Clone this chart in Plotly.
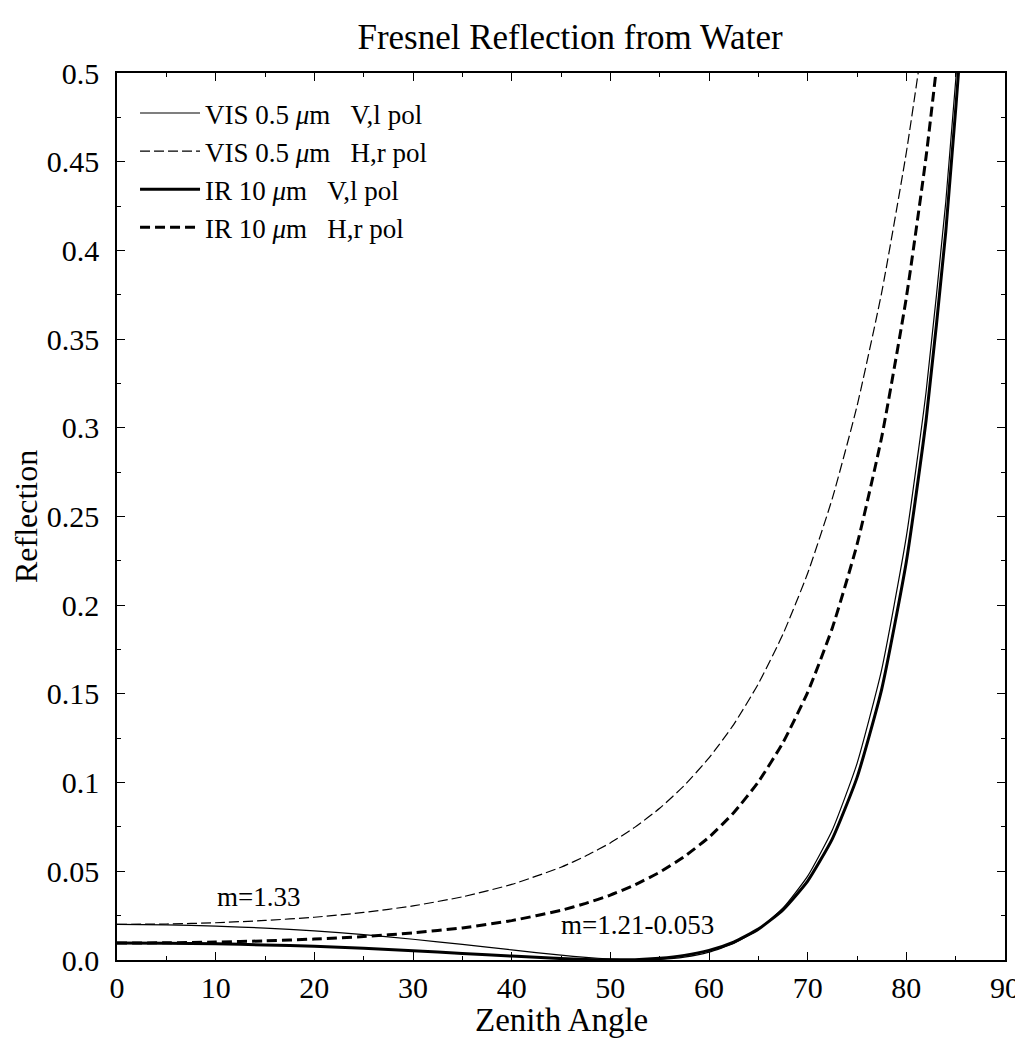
import plotly.graph_objects as go

# zenith angles (deg) and reflectances
angles = [0, 5, 10, 15, 20, 25, 30, 35, 40, 45, 47.5, 50, 52.5, 55, 57.5,
          60, 62.5, 65, 67.5, 70, 72.5, 75, 77.5, 80, 82, 84, 86, 88, 90]

vis_v = [0.0201, 0.0198, 0.0191, 0.0180, 0.0164, 0.0143, 0.0117, 0.0088,
         0.0057, 0.0027, 0.0015, 0.0005, 0.0000, 0.0003, 0.0016,
         0.0044, 0.0093, 0.0172, 0.0293, 0.0473, 0.0733, 0.1107, 0.1637,
         0.2386, 0.3202, 0.4274, 0.5684, 0.7544, 1.0]
vis_h = [0.0201, 0.0203, 0.0210, 0.0223, 0.0241, 0.0268, 0.0305, 0.0356,
         0.0426, 0.0523, 0.0586, 0.0660, 0.0749, 0.0855, 0.0984,
         0.1139, 0.1327, 0.1557, 0.1837, 0.2180, 0.2602, 0.3122, 0.3762,
         0.4552, 0.5314, 0.6215, 0.7277, 0.8529, 1.0]
ir_v = [0.0096, 0.0095, 0.0091, 0.0085, 0.0077, 0.0066, 0.0052, 0.0037,
        0.0022, 0.0008, 0.0003, 0.0001, 0.0002, 0.0010, 0.0026,
        0.0054, 0.0101, 0.0174, 0.0283, 0.0445, 0.0683, 0.1028, 0.1526,
        0.2245, 0.3041, 0.4106, 0.5531, 0.7439, 1.0]
ir_h = [0.0096, 0.0097, 0.0101, 0.0108, 0.0118, 0.0132, 0.0153, 0.0181,
        0.0222, 0.0280, 0.0319, 0.0366, 0.0424, 0.0495, 0.0583,
        0.0692, 0.0830, 0.1004, 0.1226, 0.1509, 0.1872, 0.2341, 0.2947,
        0.3734, 0.4528, 0.5507, 0.6710, 0.8189, 1.0]

x_ticks = [0, 10, 20, 30, 40, 50, 60, 70, 80, 90]
y_ticks = [0.0, 0.05, 0.1, 0.15, 0.2, 0.25, 0.3, 0.35, 0.4, 0.45, 0.5]
y_labels = ["0.0", "0.05", "0.1", "0.15", "0.2", "0.25", "0.3", "0.35",
            "0.4", "0.45", "0.5"]

FONT = "Liberation Serif"
sp = "\u00a0" * 3

series = [
    (vis_v, f"VIS 0.5 <i>μ</i>m{sp}V,l pol", 1.2, "solid"),
    (vis_h, f"VIS 0.5 <i>μ</i>m{sp}H,r pol", 1.2, "10px,4px"),
    (ir_v, f"IR 10 <i>μ</i>m{sp}V,l pol", 3, "solid"),
    (ir_h, f"IR 10 <i>μ</i>m{sp}H,r pol", 3, "10px,5px"),
]

fig = go.Figure()
for ys, name, w, dash in series:
    fig.add_trace(go.Scatter(
        x=angles, y=ys, mode="lines", name=name,
        line=dict(color="black", width=w, dash=dash, shape="spline", smoothing=0.5),
    ))

# curve labels
fig.add_annotation(x=14.3, y=0.0355, text="m=1.33", showarrow=False,
                   font=dict(family=FONT, size=27, color="black"))
fig.add_annotation(x=52.8, y=0.0197, text="m=1.21-0.053", showarrow=False,
                   font=dict(family=FONT, size=27, color="black"))

# axis titles placed by hand
fig.add_annotation(xref="paper", yref="paper", x=0.5, y=-0.068, yanchor="middle",
                   text="Zenith Angle", showarrow=False,
                   font=dict(family=FONT, size=33, color="black"))
fig.add_annotation(xref="paper", yref="paper", x=-0.103, y=0.5, xanchor="center",
                   text="Reflection", showarrow=False, textangle=-90,
                   font=dict(family=FONT, size=32, color="black"))

axis_common = dict(
    showline=True, linecolor="black", linewidth=1.5, mirror="ticks",
    ticks="inside", ticklen=8, tickwidth=1.2, tickcolor="black",
    showgrid=False, zeroline=False, automargin=False,
    tickfont=dict(family=FONT, size=30, color="black"),
)

fig.update_xaxes(
    range=[0, 90], tickvals=x_ticks,
    minor=dict(ticks="inside", ticklen=4, dtick=5, tickcolor="black", tickwidth=1.2),
    **axis_common,
)
fig.update_yaxes(
    range=[0, 0.5], tickvals=y_ticks, ticktext=y_labels, ticklabelstandoff=10,
    minor=dict(ticks="inside", ticklen=4, dtick=0.025, tickcolor="black", tickwidth=1.2),
    **axis_common,
)

# the page body adds an 8px offset, so the figure is 8px smaller each way
fig.update_layout(
    width=1015, height=1032,
    margin=dict(l=109, r=18, t=65, b=80),
    paper_bgcolor="white", plot_bgcolor="white",
    title=dict(text="Fresnel Reflection from Water", x=0.5537, xanchor="center",
               y=0.972, yanchor="middle",
               font=dict(family=FONT, size=35, color="black")),
    legend=dict(x=0.0203, y=0.982, xanchor="left", yanchor="top",
                bgcolor="rgba(0,0,0,0)", itemwidth=60,
                font=dict(family=FONT, size=27, color="black")),
    font=dict(family=FONT, color="black"),
)

fig.write_html("out.html")
